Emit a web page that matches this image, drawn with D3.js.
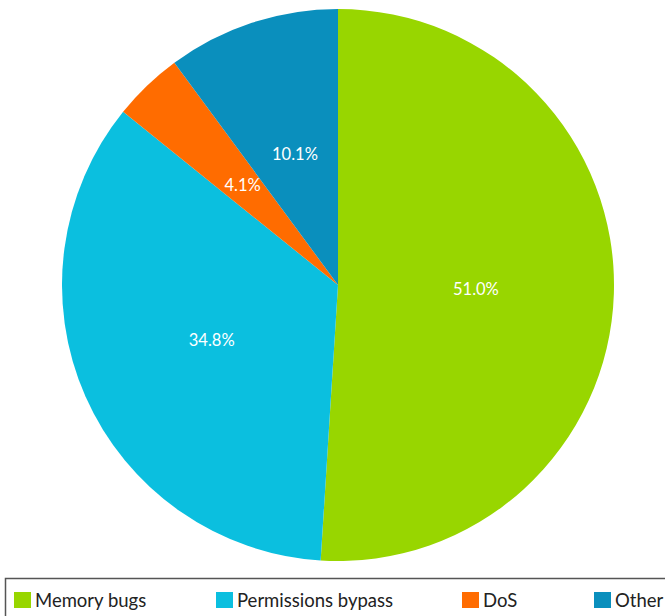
<!DOCTYPE html>
<html>
<head>
<meta charset="utf-8">
<script src="https://cdn.jsdelivr.net/npm/d3@7"></script>
<style>
  html, body { margin: 0; padding: 0; background: #fff; }
  svg { display: block; font-family: Lato, "Open Sans", sans-serif; }
</style>
</head>
<body>
<div id="chart"></div>
<script>
// categories and their shares (percent)
var categories = ["Memory bugs", "Permissions bypass", "DoS", "Other"];
var shares = [51.0, 34.8, 4.1, 10.1];
var colours = ["#98d600", "#0bbfdf", "#ff6c00", "#0a8fbd"];

var width = 665,
    height = 616,
    cx = 338,
    cy = 285,
    radius = 276;

var svg = d3.select("#chart").append("svg")
    .attr("width", width)
    .attr("height", height);

var slices = categories.map(function (c, i) {
    return { name: c, value: shares[i], fill: colours[i] };
});

var pie = d3.pie()
    .sort(null)
    .value(function (d) { return d.value; });

var arc = d3.arc().innerRadius(0).outerRadius(radius);
var labelArc = d3.arc().innerRadius(radius * 0.5).outerRadius(radius * 0.5);

var g = svg.append("g")
    .attr("transform", "translate(" + cx + "," + cy + ")");

var arcs = pie(slices);

g.selectAll("path")
    .data(arcs)
    .enter().append("path")
    .attr("d", arc)
    .style("fill", function (d) { return d.data.fill; });

g.selectAll("text")
    .data(arcs)
    .enter().append("text")
    .attr("transform", function (d) {
        var c = labelArc.centroid(d);
        return "translate(" + c[0] + "," + c[1] + ")";
    })
    .attr("text-anchor", "middle")
    .attr("dy", "0.35em")
    .style("fill", "#ffffff")
    .style("font-size", "16.5px")
    .text(function (d) { return d.data.value.toFixed(1) + "%"; });

// legend
var legend = svg.append("g");

legend.append("rect")
    .attr("x", 5.5)
    .attr("y", 578.5)
    .attr("width", 680)
    .attr("height", 60)
    .style("fill", "none")
    .style("stroke", "#555")
    .style("stroke-width", 1.5);

var legendX = d3.scaleOrdinal()
    .domain(categories)
    .range([14, 216, 462, 594]);

var items = legend.selectAll("g.item")
    .data(slices)
    .enter().append("g")
    .attr("class", "item")
    .attr("transform", function (d) { return "translate(" + legendX(d.name) + ",592)"; });

items.append("rect")
    .attr("width", 17)
    .attr("height", 16)
    .style("fill", function (d) { return d.fill; });

items.append("text")
    .attr("x", 21)
    .attr("y", 15)
    .style("font-size", "18.5px")
    .style("fill", "#222")
    .text(function (d) { return d.name; });
</script>
</body>
</html>
